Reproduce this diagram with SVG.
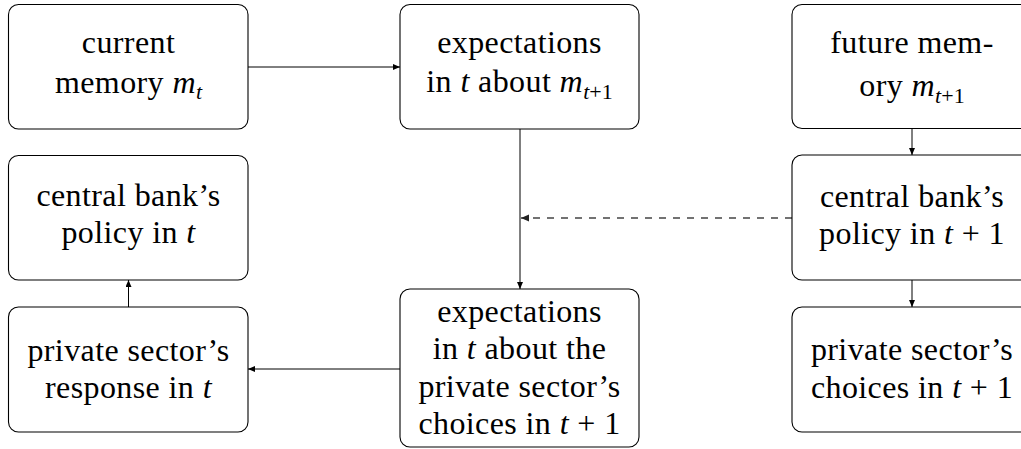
<svg xmlns="http://www.w3.org/2000/svg" width="1021" height="449" viewBox="0 0 1021 449">
<style>
.box{fill:#fff;stroke:#000;stroke-width:1.1}
.t{font-family:"Liberation Serif","Times New Roman",serif;font-size:32px;letter-spacing:0.4px;text-anchor:middle;fill:#000}
.i{font-style:italic}
.s{font-size:22px;letter-spacing:0}
.c{fill:none;stroke:#000;stroke-width:1}
.d{fill:none;stroke:#444;stroke-width:1.3;stroke-dasharray:7 7}
</style>
<defs>
<marker id="ah" markerUnits="userSpaceOnUse" markerWidth="10" markerHeight="10" refX="7" refY="3" orient="auto">
<path d="M0,0 L7,3 L0,6 Z" fill="#000"/>
</marker>
<marker id="ahd" markerUnits="userSpaceOnUse" markerWidth="12" markerHeight="12" refX="8" refY="3.5" orient="auto">
<path d="M0,0 L8,3.5 L0,7 Z" fill="#222"/>
</marker>
</defs>
<g id="connectors">
<line class="c" x1="248" y1="67" x2="400" y2="67" marker-end="url(#ah)"/>
<line class="c" x1="520" y1="129" x2="520" y2="289" marker-end="url(#ah)"/>
<line class="d" x1="792" y1="218" x2="521" y2="218" marker-end="url(#ahd)"/>
<line class="c" x1="912" y1="129" x2="912" y2="155" marker-end="url(#ah)"/>
<line class="c" x1="912" y1="280" x2="912" y2="307" marker-end="url(#ah)"/>
<line class="c" x1="400" y1="369" x2="248" y2="369" marker-end="url(#ah)"/>
<line class="c" x1="128.5" y1="307" x2="128.5" y2="280" marker-end="url(#ah)"/>
</g>
<g id="current-memory">
<rect class="box" x="8.5" y="4.5" width="239.5" height="124.5" rx="10"/>
<text class="t" x="128.5" y="53">current</text>
<text class="t" x="128.5" y="92.5">memory <tspan class="i">m</tspan><tspan class="i s" dy="6">t</tspan></text>
</g>
<g id="expectations-m">
<rect class="box" x="400" y="4.5" width="239" height="124.5" rx="10"/>
<text class="t" x="519.5" y="53">expectations</text>
<text class="t" x="519.5" y="92">in <tspan class="i">t</tspan> about <tspan class="i">m</tspan><tspan class="s" dy="7"><tspan class="i">t</tspan>+1</tspan></text>
</g>
<g id="future-memory">
<rect class="box" x="792" y="4.5" width="239.5" height="124" rx="10"/>
<text class="t" x="912" y="53">future mem-</text>
<text class="t" x="912" y="95.5">ory <tspan class="i">m</tspan><tspan class="s" dy="7"><tspan class="i">t</tspan>+1</tspan></text>
</g>
<g id="cb-policy-t">
<rect class="box" x="8.5" y="155.5" width="239.5" height="124.5" rx="10"/>
<text class="t" x="128.5" y="206">central bank’s</text>
<text class="t" x="128.5" y="243">policy in <tspan class="i">t</tspan></text>
</g>
<g id="cb-policy-t1">
<rect class="box" x="792" y="155" width="239.5" height="125" rx="10"/>
<text class="t" x="912" y="206.5">central bank’s</text>
<text class="t" x="912" y="243.5">policy in <tspan class="i">t</tspan> + 1</text>
</g>
<g id="private-response-t">
<rect class="box" x="8.5" y="307" width="239.5" height="125" rx="10"/>
<text class="t" x="128.5" y="360.5">private sector’s</text>
<text class="t" x="128.5" y="398">response in <tspan class="i">t</tspan></text>
</g>
<g id="expectations-private">
<rect class="box" x="400" y="289" width="239" height="158" rx="10"/>
<text class="t" x="519.5" y="321.5">expectations</text>
<text class="t" x="519.5" y="359">in <tspan class="i">t</tspan> about the</text>
<text class="t" x="519.5" y="396.5">private sector’s</text>
<text class="t" x="519.5" y="434">choices in <tspan class="i">t</tspan> + 1</text>
</g>
<g id="private-choices-t1">
<rect class="box" x="792" y="307" width="239.5" height="125" rx="10"/>
<text class="t" x="912" y="360">private sector’s</text>
<text class="t" x="912" y="398">choices in <tspan class="i">t</tspan> + 1</text>
</g>
</svg>
